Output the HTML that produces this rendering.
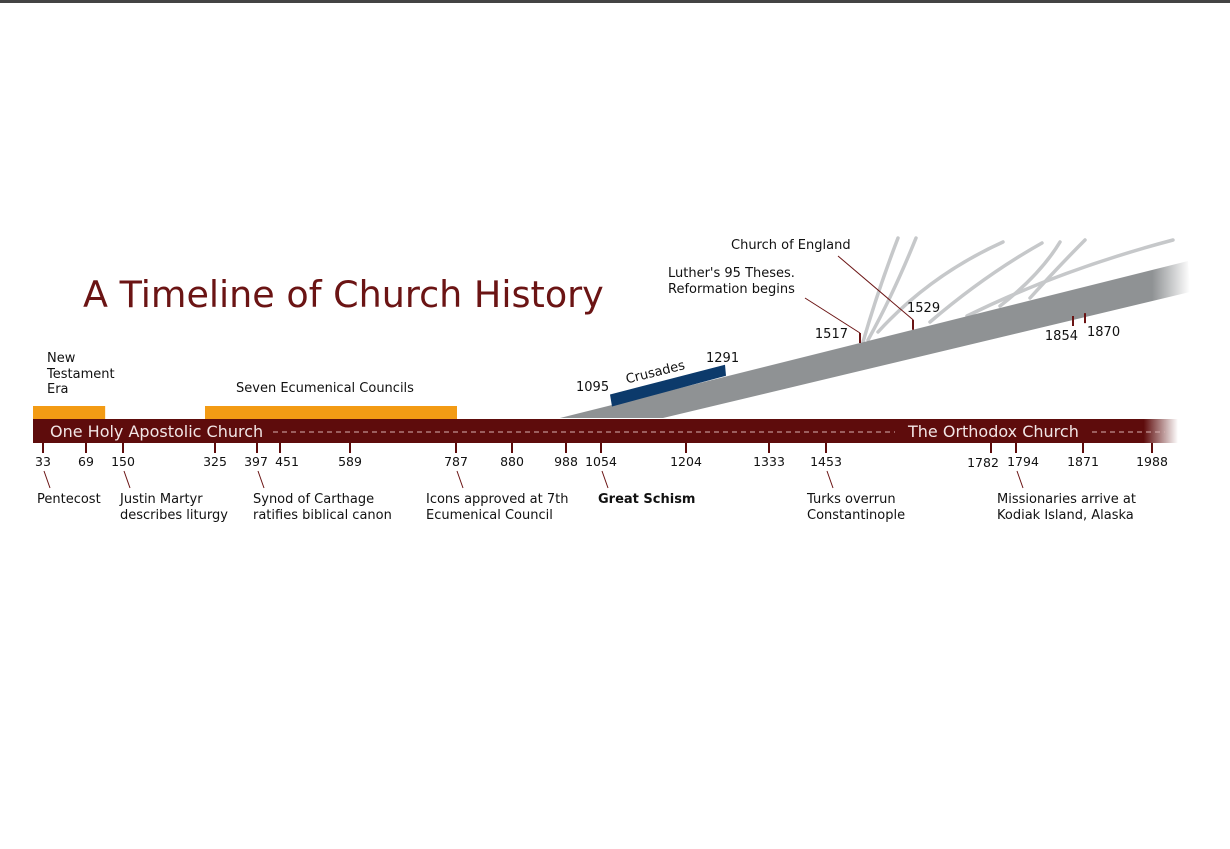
<!DOCTYPE html>
<html><head><meta charset="utf-8"><style>
html,body{margin:0;padding:0;background:#fff;}
svg{display:block;font-family:"DejaVu Sans","Liberation Sans",sans-serif;}
</style></head><body>
<svg id="chart" width="1230" height="849" viewBox="0 0 1230 849">
<defs>
<linearGradient id="fadeRed" x1="0" x2="1" y1="0" y2="0">
<stop offset="0" stop-color="#5e0c0c"/><stop offset="0.97" stop-color="#5e0c0c"/><stop offset="1" stop-color="#5e0c0c" stop-opacity="0"/></linearGradient>
<linearGradient id="fadeGray" x1="0" x2="1" y1="0" y2="0">
<stop offset="0" stop-color="#8f9294"/><stop offset="0.94" stop-color="#8f9294"/><stop offset="1" stop-color="#8f9294" stop-opacity="0"/></linearGradient>
</defs>
<rect x="0" y="0" width="1230" height="3" fill="#444"/>
<text x="83" y="307" font-size="36.5" fill="#6b1414" font-family="DejaVu Sans, sans-serif">A Timeline of Church History</text>
<g id="g"></g>
</svg>
<script>
const NS='http://www.w3.org/2000/svg';
// Main axis (non-uniform spacing as in the original graphic)
const axisYears=[33,69,150,325,397,451,589,787,880,988,1054,1204,1333,1453,1782,1794,1871,1988];
const axisPx=[43,86,123,215,257,280,350,456,512,566,601,686,769,826,991,1016,1083,1152];
const tickYears=[33,69,150,325,397,451,589,787,880,988,1054,1204,1333,1453,1782,1794,1871,1988];
const eraNames=["New Testament Era","Seven Ecumenical Councils"];
const eraStart=[33,325];
const eraEnd=[100,787];
const eventYears=[33,150,397,787,1054,1453,1794];
const eventLine1=["Pentecost","Justin Martyr","Synod of Carthage","Icons approved at 7th","Great Schism","Turks overrun","Missionaries arrive at"];
const eventLine2=["","describes liturgy","ratifies biblical canon","Ecumenical Council","","Constantinople","Kodiak Island, Alaska"];
// Branch (western church) scale
const branchYears=[1000,1095,1291,1517,1529,1854,1870,2000];
const branchPx=[565,610,725,860,913,1073,1085,1175];
const branchTicks=[1517,1529,1854,1870];
const crusadeStart=1095, crusadeEnd=1291;

function interp(v,d,r){
  if(v<=d[0]) return r[0]+(v-d[0])*(r[1]-r[0])/(d[1]-d[0]);
  for(let i=1;i<d.length;i++){ if(v<=d[i]) return r[i-1]+(v-d[i-1])*(r[i]-r[i-1])/(d[i]-d[i-1]); }
  const n=d.length-1; return r[n]+(v-d[n])*(r[n]-r[n-1])/(d[n]-d[n-1]);
}
const x=v=>interp(v,axisYears,axisPx);
const bx=v=>interp(v,branchYears,branchPx);
const topY=px=>418-0.25*(px-560);
const botY=px=>418-0.239*(px-663);

const g=document.getElementById('g');
function el(t,a,txt){const e=document.createElementNS(NS,t);for(const k in a)e.setAttribute(k,a[k]);if(txt!==undefined)e.textContent=txt;g.appendChild(e);return e;}

// reformation sub-branches
const subs=[[863,342,878,290,898,238],[868,340,893,295,916,238],[878,332,930,275,1003,242],[930,322,985,275,1042,243],[967,316,1060,270,1173,240],[1030,298,1060,265,1085,240],[1000,306,1040,275,1060,242]];
subs.forEach(s=>{const l=el('path',{d:`M${s[0]},${s[1]} Q${s[2]},${s[3]} ${s[4]},${s[5]}`,stroke:'#c6c8ca','stroke-width':3.5,fill:'none','stroke-linecap':'round'});

});

// gray branch band
let e=el('polygon',{points:`560,418 1188,${topY(1188)} 1190,${botY(1190)} 663,418`,fill:'url(#fadeGray)'});



// crusades
const c1=bx(crusadeStart),c2=bx(crusadeEnd);
e=el('polygon',{points:`${c1},${topY(c1)-11} ${c2},${topY(c2)-12} ${c2+1},${topY(c2)-1} ${c1+2},${topY(c1)+1}`,fill:'#0c3a6b'});


e=el('text',{x:c1-34,y:391,'font-size':13,fill:'#111'},String(crusadeStart));


e=el('text',{x:c2-19,y:362,'font-size':13,fill:'#111'},String(crusadeEnd));


e=el('text',{x:0,y:0,'font-size':13,fill:'#111',transform:`translate(${c1+17},${topY(c1)-22}) rotate(-14)`},'Crusades');



// branch ticks
branchTicks.forEach((yr,i)=>{const px=bx(yr);
 let y1,y2;
 if(yr<1700){y1=topY(px);y2=y1-10;}else{y1=botY(px)-4;y2=botY(px)+6;}
 const t=el('line',{x1:px,y1:y1,x2:px,y2:y2,stroke:'#6b1414','stroke-width':2});
 
 
 const pos=[[px-12,338,'end'],[px-6,312,'start'],[px+5,340,'end'],[px+2,336,'start']][i];
 const lb=el('text',{x:pos[0],y:pos[1],'font-size':13,fill:'#111','text-anchor':pos[2]},String(yr));
 
 });
e=el('line',{x1:805,y1:298,x2:bx(1517),y2:topY(bx(1517))-10,stroke:'#6b1414','stroke-width':1});


e=el('line',{x1:838,y1:256,x2:bx(1529),y2:topY(bx(1529))-10,stroke:'#6b1414','stroke-width':1});


e=el('text',{x:668,y:277,'font-size':13,fill:'#111'},"Luther's 95 Theses.");


e=el('text',{x:668,y:293,'font-size':13,fill:'#111'},'Reformation begins');


e=el('text',{x:731,y:249,'font-size':13,fill:'#111'},'Church of England');



// eras
eraNames.forEach((n,i)=>{const x0=x(eraStart[i])-10, x1=x(eraEnd[i])+1;
 const r=el('rect',{x:x0,y:406,width:x1-x0+(i===0?4:0),height:13,fill:'#f39b14'});
 
 });
[['New',362],['Testament',378],['Era',393]].forEach(a=>{const t=el('text',{x:47,y:a[1],'font-size':13,fill:'#111'},a[0]);
 
 });
e=el('text',{x:236,y:392,'font-size':13,fill:'#111'},eraNames[1]);



// main band
e=el('rect',{x:33,y:419,width:1145,height:24,fill:'url(#fadeRed)'});


e=el('line',{x1:273,y1:432,x2:895,y2:432,stroke:'#d8b0b0','stroke-width':1,'stroke-dasharray':'5,4'});


e=el('line',{x1:1092,y1:432,x2:1165,y2:432,stroke:'#d8b0b0','stroke-width':1,'stroke-dasharray':'5,4'});


e=el('text',{x:50,y:437,'font-size':16,fill:'#f2e6e6'},'One Holy Apostolic Church');


e=el('text',{x:908,y:437,'font-size':16,fill:'#f2e6e6'},'The Orthodox Church');



// axis ticks
tickYears.forEach(yr=>{const px=x(yr);
 const t=el('line',{x1:px,y1:443,x2:px,y2:453,stroke:'#5e0c0c','stroke-width':2});
 
 
 let lx=px, dy=466;
 if(yr===397) lx=px-1;
 if(yr===451) lx=px+7;
 if(yr===1782){lx=px-8;dy=467;}
 if(yr===1794) lx=px+7;
 const lb=el('text',{x:lx,y:dy,'font-size':12.5,fill:'#111','text-anchor':'middle'},String(yr));
 
 });

// events
const ev=[-6,-3,-4,-30,-3,-19,-19];
eventYears.forEach((yr,i)=>{const px=x(yr);
 const l=el('line',{x1:px+1,y1:471,x2:px+7,y2:488,stroke:'#6b1414','stroke-width':1});
 
 
 const lx=px+ev[i];
 const t1=el('text',{x:lx,y:503,'font-size':13,fill:'#111','font-weight':yr===1054?'bold':'normal'},eventLine1[i]);
 
 
 if(eventLine2[i]){const t2=el('text',{x:lx,y:519,'font-size':13,fill:'#111'},eventLine2[i]);
 
 }});
</script>
</body></html>
